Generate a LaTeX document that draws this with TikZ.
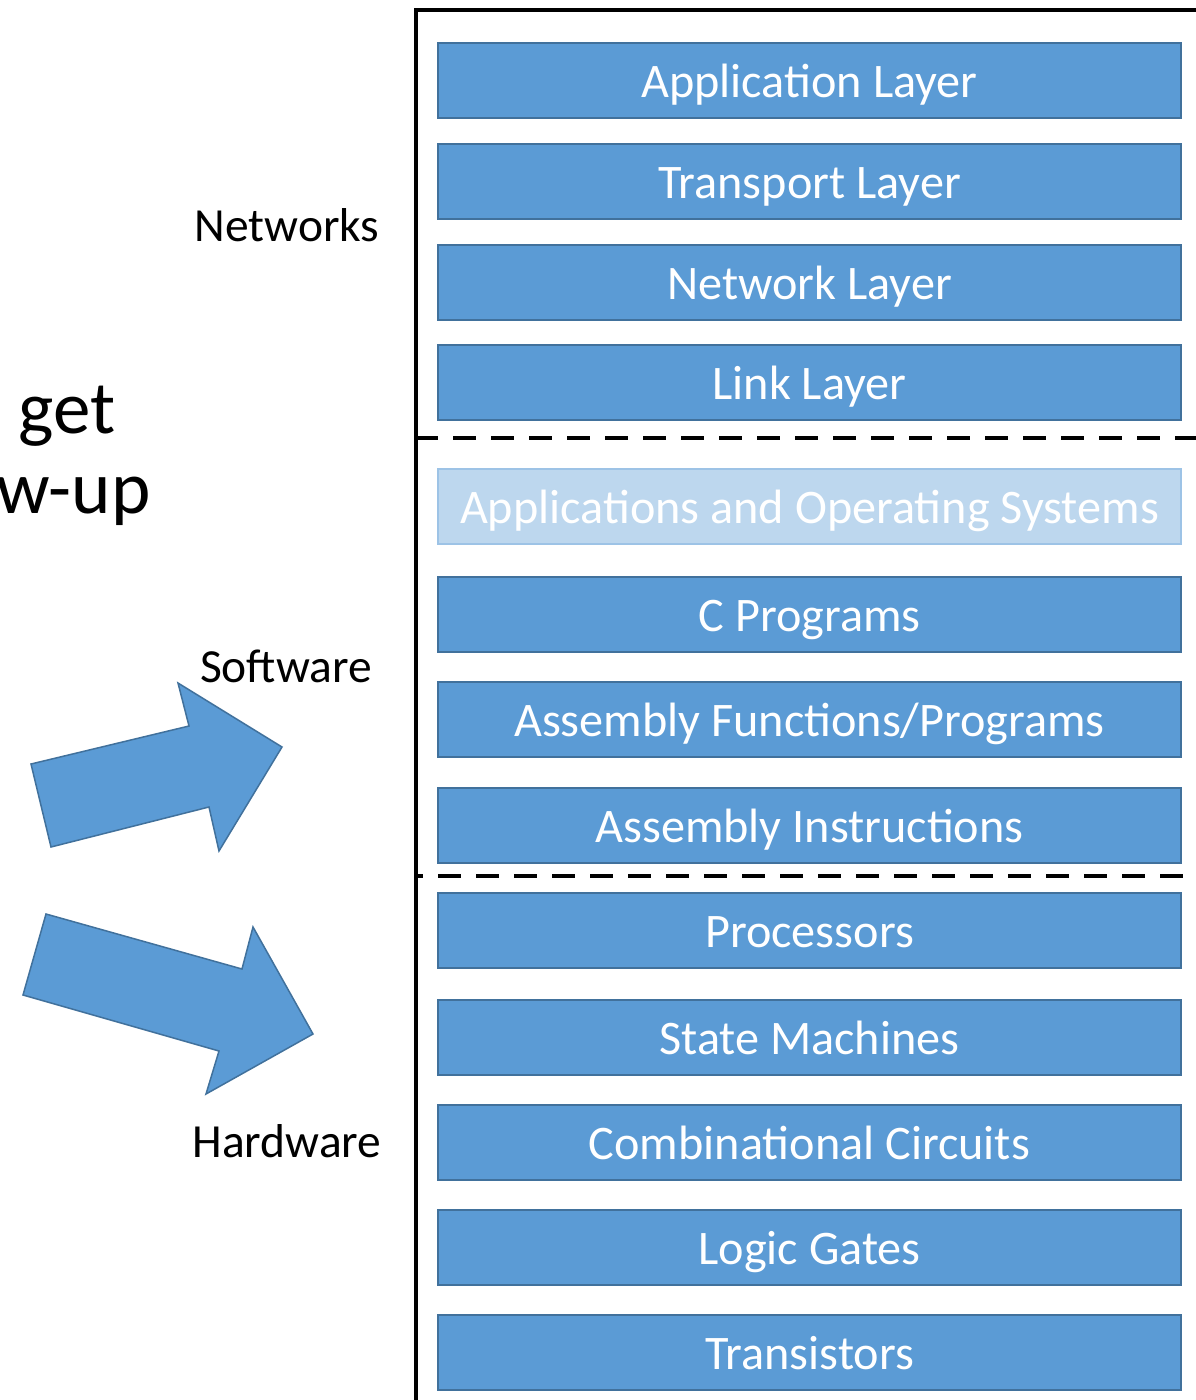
\documentclass[tikz,border=0pt]{standalone}
\usepackage{fontspec}
\setmainfont{Carlito}
\definecolor{boxblue}{HTML}{5B9BD5}
\definecolor{boxedge}{HTML}{41719C}
\definecolor{lightblue}{HTML}{BDD7EE}
\definecolor{lightedge}{HTML}{9DC3E6}
\begin{document}
\begin{tikzpicture}[x=1pt,y=-1pt,
  layer/.style={rectangle, fill=boxblue, draw=boxedge, line width=2pt,
    minimum width=743pt, minimum height=75pt, inner sep=0pt,
    text height=34pt, text depth=0pt, text=white,
    font=\fontsize{48.2}{58}\selectfont},
  faded/.style={layer, fill=lightblue, draw=lightedge},
  side/.style={anchor=base, font=\fontsize{47.5}{57}\selectfont},
  big/.style={anchor=base east, font=\fontsize{75}{90}\selectfont},
  frame/.style={line width=4pt},
  divider/.style={line width=4pt, dash pattern=on 23pt off 15pt},
  bigarrow/.style={fill=boxblue, draw=boxedge, line width=1.5pt, line join=miter}]
\useasboundingbox (0,0) rectangle (1196,1400);
\clip (0,0) rectangle (1196,1400);

% frame
\coordinate (ftl) at (415.5,9.5);
\coordinate (fbl) at (415.5,1402);
\coordinate (ftr) at (1200,9.5);
\draw[frame] (fbl) -- (ftl) -- (ftr);

% dividers
\coordinate (d1a) at (415,438);
\coordinate (d1b) at (1200,438);
\coordinate (d2a) at (416,876);
\coordinate (d2b) at (1183,876);
\draw[divider] (d1a) -- (d1b);
\draw[divider, dash phase=16pt] (d2a) -- (d2b);

% layers
\node[layer] (app)   at (809.5,80.5)  {Application Layer};
\node[layer] (trans) at (809.5,181.5) {Transport Layer};
\node[layer] (net)   at (809.5,282.5) {Network Layer};
\node[layer] (link)  at (809.5,382.5) {Link Layer};
\node[faded] (apps)  at (809.5,506.5) {Applications and Operating Systems};
\node[layer] (cprog) at (809.5,614)   {C Programs};
\node[layer] (asmf)  at (809.5,719.5) {Assembly Functions/Programs};
\node[layer] (asmi)  at (809.5,825)   {Assembly Instructions};
\node[layer] (proc)  at (809.5,930)   {Processors};
\node[layer] (fsm)   at (809.5,1037)  {State Machines};
\node[layer] (comb)  at (809.5,1142)  {Combinational Circuits};
\node[layer] (gates) at (809.5,1247)  {Logic Gates};
\node[layer] (tr)    at (809.5,1352.5){Transistors};

% side labels
\node[side] (lnet) at (287,241)  {Networks};
\node[side] (lsw)  at (286,682)  {Software};
\node[side] (lhw)  at (287,1157) {Hardware};

% cropped big text (cut off at the left edge, as in the reference)
\node[big] (tget) at (119,433) {get};
\node[big] (tup)  at (154,513) {w-up};

% arrows
\draw[bigarrow] (31,764) -- (189,726) -- (178,683) -- (282,747) -- (219,851) -- (209,807) -- (51,847) -- cycle;
\draw[bigarrow] (46,914) -- (242,969) -- (253,927) -- (313,1034) -- (206,1094) -- (219,1051) -- (23,995) -- cycle;
\end{tikzpicture}
\end{document}
